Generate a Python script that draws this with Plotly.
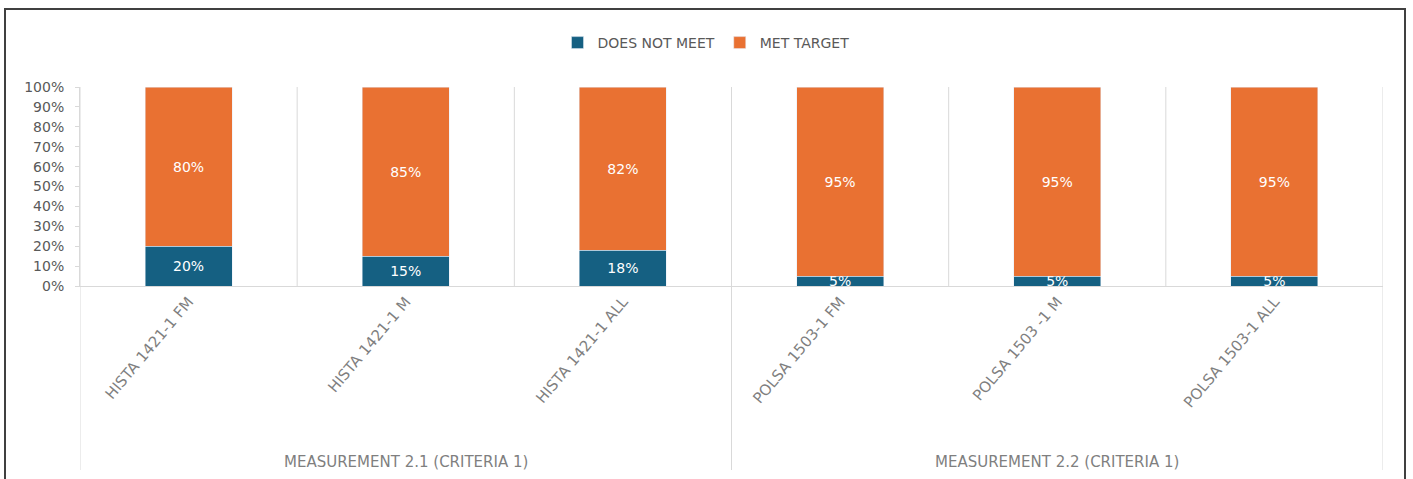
import plotly.graph_objects as go

categories = ["HISTA 1421-1 FM", "HISTA 1421-1 M", "HISTA 1421-1 ALL",
              "POLSA 1503-1 FM", "POLSA 1503 -1 M", "POLSA 1503-1 ALL"]
groups = ["MEASUREMENT 2.1 (CRITERIA 1)", "MEASUREMENT 2.2 (CRITERIA 1)"]
group_sizes = [3, 3]
does_not_meet = [0.20, 0.15, 0.18, 0.05, 0.05, 0.05]
met_target = [0.80, 0.85, 0.82, 0.95, 0.95, 0.95]
y_ticks = [i / 10 for i in range(11)]

BLUE = "#156082"
ORANGE = "#E97132"
GRID = "#d9d9d9"
TXT = "#595959"
FONT = "DejaVu Sans"

xs = list(range(len(categories)))

fig = go.Figure()
fig.add_trace(go.Bar(
    x=xs, y=does_not_meet, name="DOES NOT MEET", marker_color=BLUE,
    text=[f"{v:.0%}" for v in does_not_meet], textposition="inside",
    insidetextanchor="middle", textangle=0,
    textfont=dict(color="white", size=14, family=FONT),
))
fig.add_trace(go.Bar(
    x=xs, y=met_target, name="MET TARGET", marker_color=ORANGE,
    text=[f"{v:.0%}" for v in met_target], textposition="inside",
    insidetextanchor="middle", textangle=0,
    textfont=dict(color="white", size=14, family=FONT),
))

# pixel helpers for layout geometry
L, R, T, B = 80, 30, 87, 193
W, H = 1413, 479
pw, ph = W - L - R, H - T - B
def px(x):
    return (x - L) / pw
def py(y):
    return (H - B - y) / ph

shapes = []
start = 0
bounds = [-0.5]
for g in group_sizes:
    start += g
    bounds.append(start - 0.5)
for i in range(len(categories) + 1):
    xb = i - 0.5
    is_group = xb in bounds
    shapes.append(dict(type="line", xref="x", yref="paper", x0=xb, x1=xb,
                       y0=py(470) if is_group else 0, y1=1,
                       line=dict(color=GRID, width=1), layer="below"))
# outer frame
shapes.append(dict(type="rect", xref="paper", yref="paper",
                   x0=px(5), x1=px(1405), y0=py(490), y1=py(9),
                   line=dict(color="#404040", width=2)))

annotations = []
start = 0
for g, n in zip(groups, group_sizes):
    center = start + (n - 1) / 2
    annotations.append(dict(text=g, x=center, xref="x", y=py(462), yref="paper",
                            showarrow=False, xanchor="center", yanchor="middle",
                            font=dict(size=15, color="#7f7f7f", family=FONT)))
    start += n

fig.update_layout(
    width=W, height=H,
    margin=dict(l=L, r=R, t=T, b=B),
    barmode="stack", bargap=0.6,
    plot_bgcolor="white", paper_bgcolor="white",
    font=dict(family=FONT, color=TXT),
    uniformtext=dict(minsize=14, mode="show"),
    showlegend=True,
    legend=dict(orientation="h", x=px(706), y=py(43), xanchor="center",
                yanchor="middle", traceorder="normal",
                font=dict(size=14, color=TXT, family=FONT)),
    shapes=shapes, annotations=annotations,
    xaxis=dict(range=[-0.5, len(categories) - 0.5], tickvals=xs, ticktext=categories,
               tickangle=-50, showline=True, linecolor=GRID, showgrid=False,
               ticks="", zeroline=False,
               tickfont=dict(size=15, color="#7f7f7f", family=FONT)),
    yaxis=dict(range=[0, 1], tickvals=y_ticks, tickformat=".0%", showgrid=False,
               showline=True, linecolor=GRID, ticks="outside", ticklen=4,
               tickcolor=GRID, zeroline=False, ticklabelstandoff=8,
               tickfont=dict(size=14, color=TXT, family=FONT)),
)

fig.write_html("out.html", config={"displayModeBar": False},
               post_script="document.body.style.margin='0';document.body.style.padding='0';")
